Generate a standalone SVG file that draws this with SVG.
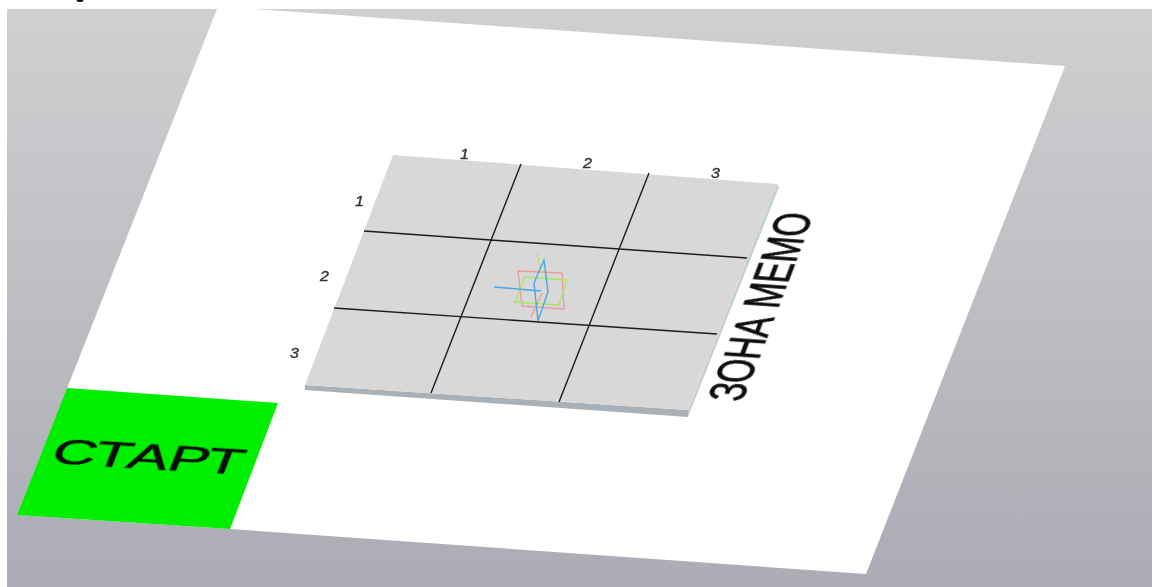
<svg xmlns="http://www.w3.org/2000/svg" width="1152" height="587" viewBox="0 0 1152 587">
<defs>
<linearGradient id="bg" x1="0" y1="0" x2="0" y2="1"><stop offset="0" stop-color="#d0d0d2"/><stop offset="1" stop-color="#abacb4"/></linearGradient>
<filter id="soft" x="-10%" y="-10%" width="120%" height="120%"><feGaussianBlur stdDeviation="0.5"/></filter>
</defs>
<style>
.grid{stroke:#1c1c1c;stroke-width:1.4;fill:none}
.lab{font-family:"Liberation Sans",Arial,sans-serif;font-style:italic;font-size:16px;fill:#333;stroke:#333;stroke-width:.4}
.big{font-family:"Liberation Sans",Arial,sans-serif;font-size:40px;fill:#0a0a0a;stroke:#0a0a0a;stroke-width:.7}
</style>
<rect width="1152" height="587" fill="#fff"/>
<rect x="7" y="9" width="1145" height="578" fill="url(#bg)"/>
<ellipse cx="80" cy="0" rx="3.5" ry="2" fill="#111"/>
<polygon id="plane" points="217,9 254,9 1065,66 866,574 230,529 17,515" fill="#fff"/>
<g id="start">
<polygon points="67,388 278,403 230,529 17,515" fill="#00ee00"/>
<text class="big" filter="url(#soft)" transform="matrix(1.5 .09 -.33 .85 49 463)">СТАРТ</text>
</g>
<g id="board">
<polygon points="305,385 688,410 688,417 305,390" fill="#a9b0b6"/>
<polygon points="777,184 688,410 688,417 779,187" fill="#c4d0d8"/>
<polygon points="393,155 777,184 688,410 305,385" fill="#d8d8d8"/>
</g>
<g id="connectors" filter="url(#soft)">
<path class="grid" d="M521,164 431,393M649,173 559,402M364,231 747,258M334,308 717,334"/>
</g>
<g id="labels" filter="url(#soft)">
<text class="lab" transform="translate(460,159) scale(1,.9)">1</text>
<text class="lab" transform="translate(583,168) scale(1,.9)">2</text>
<text class="lab" transform="translate(711,178) scale(1,.9)">3</text>
<text class="lab" transform="translate(355,206) scale(1,.9)">1</text>
<text class="lab" transform="translate(320,281) scale(1,.9)">2</text>
<text class="lab" transform="translate(290,358) scale(1,.9)">3</text>
</g>
<g id="memo">
<text class="big" filter="url(#soft)" transform="matrix(.29 -.765 1.26 .088 742 402)">ЗОНА МЕМО</text>
</g>
<g id="gizmo" fill="none" stroke-width="1.4" filter="url(#soft)">
<polygon points="518,271 562,273 564,309 522,306" stroke="#f09a9e"/>
<polygon points="525,277 567,280 559,305 515,302" stroke="#a8e860"/>
<path d="M537,253 541,273" stroke="#c8e070"/>
<path d="M542,293 531,317" stroke="#f0a080"/>
<polygon points="544,260 548,292 538,321 534,283" stroke="#45a8e8"/>
<path d="M494,287 541,291" stroke="#45a8e8"/>
</g>
</svg>
